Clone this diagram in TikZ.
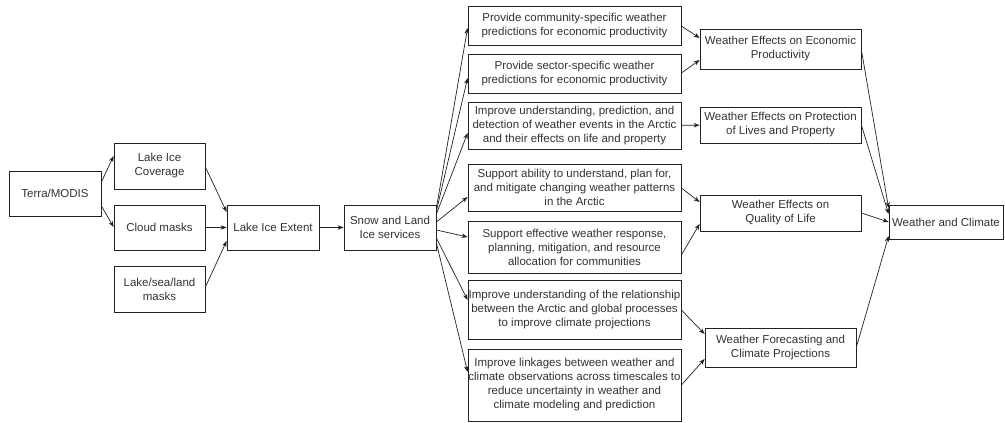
\documentclass[tikz,border=0pt]{standalone}
\usepackage{fontspec}
\setmainfont{Liberation Sans}
\usetikzlibrary{arrows.meta}
\definecolor{txt}{HTML}{333333}
\definecolor{ln}{HTML}{222222}
\begin{document}
\begin{tikzpicture}[x=1pt,y=-1pt,
  box/.style={draw=ln, line width=0.8pt, fill=white, align=center, inner sep=0pt,
    text=txt, font=\fontsize{11.5}{14}\selectfont},
  conn/.style={draw=ln, line width=0.7pt, -{Stealth[length=6pt,width=4.5pt]}}]
\useasboundingbox (0,0) rectangle (1005,423);

% left part
\node[box, minimum width=92pt, minimum height=45pt] (terra) at (55,193.5) {Terra/MODIS};
\node[box, minimum width=91pt, minimum height=46pt] (lic) at (159.5,166) {Lake Ice\\Coverage};
\node[box, minimum width=91pt, minimum height=45pt] (cloud) at (159.5,227.5) {Cloud masks};
\node[box, minimum width=91pt, minimum height=46pt] (lsl) at (159.5,289) {Lake/sea/land\\masks};
\node[box, minimum width=92pt, minimum height=45pt] (lie) at (273,227.5) {Lake Ice Extent};
\node[box, minimum width=92pt, minimum height=45pt] (snow) at (390,227.5) {Snow and Land\\Ice services};

% middle column
\node[box, minimum width=213pt, minimum height=39pt] (p1) at (574.5,25.5) {Provide community-specific weather\\predictions for economic productivity};
\node[box, minimum width=213pt, minimum height=39pt] (p2) at (574.5,73.5) {Provide sector-specific weather\\predictions for economic productivity};
\node[box, minimum width=213pt, minimum height=47pt] (p3) at (574.5,125.5) {Improve understanding, prediction, and\\detection of weather events in the Arctic\\and their effects on life and property};
\node[box, minimum width=213pt, minimum height=47pt] (p4) at (574.5,187.5) {Support ability to understand, plan for,\\and mitigate changing weather patterns\\in the Arctic};
\node[box, minimum width=213pt, minimum height=52pt] (p5) at (574.5,247) {Support effective weather response,\\planning, mitigation, and resource\\allocation for communities};
\node[box, minimum width=213pt, minimum height=59pt] (p6) at (574.5,309.5) {Improve understanding of the relationship\\between the Arctic and global processes\\to improve climate projections};
\node[box, minimum width=213pt, minimum height=72pt] (p7) at (574.5,385) {Improve linkages between weather and\\climate observations across timescales to\\reduce uncertainty in weather and\\climate modeling and prediction};

% effects
\node[box, minimum width=161pt, minimum height=40pt] (econ) at (780.5,49) {Weather Effects on Economic\\Productivity};
\node[box, minimum width=161pt, minimum height=36pt] (prot) at (780.5,125) {Weather Effects on Protection\\of Lives and Property};
\node[box, minimum width=161pt, minimum height=36pt] (qual) at (780.5,213) {Weather Effects on\\Quality of Life};
\node[box, minimum width=151pt, minimum height=39pt] (fore) at (780.5,347.5) {Weather Forecasting and\\Climate Projections};
\node[box, minimum width=114pt, minimum height=34pt] (wc) at (946,222) {Weather and Climate};

% connectors left
\draw[conn] (terra.east |- 0,182) -- (lic.west |- 0,156);
\draw[conn] (terra.east |- 0,206) -- (cloud.west |- 0,227);
\draw[conn] (lic.east |- 0,167) -- (lie.west |- 0,212);
\draw[conn] (cloud.east |- 0,227.5) -- (lie.west |- 0,227.5);
\draw[conn] (lsl.east |- 0,287) -- (lie.west |- 0,241);
\draw[conn] (lie) -- (snow);

% snow to middle
\draw[conn] (snow.east |- 0,208) -- (p1.west |- 0,28);
\draw[conn] (snow.east |- 0,211) -- (p2.west |- 0,78);
\draw[conn] (snow.east |- 0,214) -- (p3.west |- 0,133);
\draw[conn] (snow.east |- 0,222) -- (p4.west |- 0,197);
\draw[conn] (snow.east |- 0,230) -- (p5.west |- 0,237);
\draw[conn] (snow.east |- 0,238) -- (p6.west |- 0,300);
\draw[conn] (snow.east |- 0,243) -- (p7.west |- 0,372);

% middle to effects
\draw[conn] (p1.east |- 0,26) -- (econ.west |- 0,38);
\draw[conn] (p2.east |- 0,73) -- (econ.west |- 0,60);
\draw[conn] (p3) -- (prot);
\draw[conn] (p4.east |- 0,188) -- (qual.west |- 0,202);
\draw[conn] (p5.east |- 0,255) -- (qual.west |- 0,224);
\draw[conn] (p6.east |- 0,310) -- (fore.west |- 0,334);
\draw[conn] (p7.east |- 0,385) -- (fore.west |- 0,359);

% effects to weather and climate
\draw[conn] (econ.east |- 0,50) -- (wc.west |- 0,208);
\draw[conn] (prot.east |- 0,125) -- (wc.west |- 0,214);
\draw[conn] (qual.east |- 0,213) -- (wc.west |- 0,222);
\draw[conn] (fore.east |- 0,347) -- (wc.west |- 0,236);
\end{tikzpicture}
\end{document}
